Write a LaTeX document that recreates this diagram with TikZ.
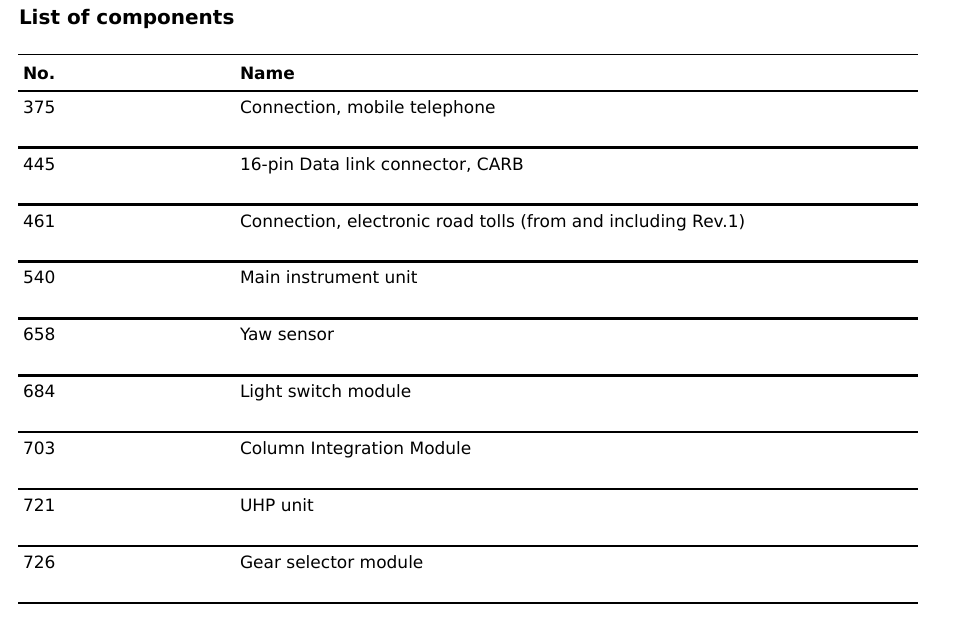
\documentclass[tikz,border=0pt]{standalone}
\usepackage{fontspec}
\setmainfont{DejaVu Sans}
\begin{document}
\begin{tikzpicture}[x=1bp,y=-1bp,
  every node/.style={inner sep=0pt,outer sep=0pt,anchor=base west},
  titletext/.style={font=\fontsize{20bp}{23bp}\selectfont\bfseries},
  headtext/.style={font=\fontsize{17bp}{20bp}\selectfont\bfseries},
  celltext/.style={font=\fontsize{17bp}{20bp}\selectfont},
  thinrule/.style={line width=1.2bp,black},
  thickrule/.style={line width=2.5bp,black}]
\useasboundingbox[fill=white] (0,0) rectangle (960,622);
\node[titletext] (title) at (19,25) {List of components};
% rules
\coordinate (t0l) at (18,54.5);  \coordinate (t0r) at (918,54.5);
\draw[thinrule] (t0l) -- (t0r);
\node[headtext] (hno) at (23,80) {No.};
\node[headtext] (hname) at (240,80) {Name};
\foreach \i/\no/\name in {0/375/{Connection, mobile telephone},
  1/445/{16-pin Data link connector, CARB},
  2/461/{Connection, electronic road tolls (from and including Rev.1)},
  3/540/{Main instrument unit},
  4/658/{Yaw sensor},
  5/684/{Light switch module},
  6/703/{Column Integration Module},
  7/721/{UHP unit},
  8/726/{Gear selector module}}{
  \pgfmathsetmacro{\ly}{90.8+56.9*\i}
  \coordinate (l\i) at (18,\ly);
  \coordinate (r\i) at (918,\ly);
  \draw[thickrule] (l\i) -- (r\i);
  \node[celltext] (no\i) at (23,\ly+22.5) {\no};
  \node[celltext] (name\i) at (240,\ly+22.5) {\name};
}
\coordinate (lend) at (18,602.9);
\coordinate (rend) at (918,602.9);
\draw[thickrule] (lend) -- (rend);
\end{tikzpicture}
\end{document}
